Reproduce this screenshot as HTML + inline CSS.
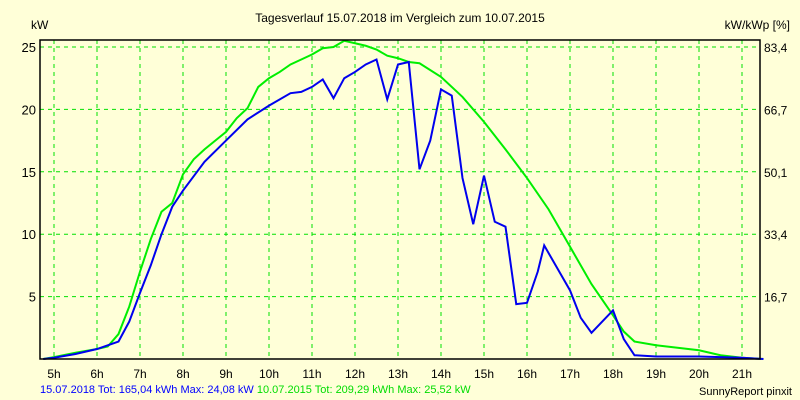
<!DOCTYPE html>
<html><head><meta charset="utf-8"><style>
body{margin:0;background:#FFFFD8;}
svg{display:block;font-family:"Liberation Sans",sans-serif;font-size:12px;}
</style></head><body>
<svg width="800" height="400">
<rect x="0" y="0" width="800" height="400" fill="#FFFFD8"/>
<text x="400" y="22" text-anchor="middle">Tagesverlauf 15.07.2018 im Vergleich zum 10.07.2015</text>
<text x="31" y="29">kW</text>
<text x="790" y="29" text-anchor="end">kW/kWp [%]</text>
<g id="grid"></g>
<g id="series"></g>
<rect x="40" y="40" width="720" height="319" fill="none" stroke="#000" stroke-width="1.5"/>
<g id="labels"></g>
<text x="40" y="393" font-size="11"><tspan fill="#0000FF">15.07.2018 Tot: 165,04 kWh Max: 24,08 kW</tspan><tspan fill="#00DD00"> 10.07.2015 Tot: 209,29 kWh Max: 25,52 kW</tspan></text>
<text x="792" y="395" text-anchor="end" font-size="11">SunnyReport pinxit</text>
</svg>
<script>
const xTicks=[5,6,7,8,9,10,11,12,13,14,15,16,17,18,19,20,21];
const yTicks=[5,10,15,20,25];
const yRightLabels=["16,7","33,4","50,1","66,7","83,4"];
const blueT=[4.75,5,5.5,6,6.5,6.75,7,7.25,7.5,7.75,8,8.5,9,9.5,10,10.5,10.75,11,11.25,11.5,11.75,12,12.25,12.5,12.75,13,13.25,13.5,13.75,14,14.25,14.5,14.75,15,15.25,15.5,15.75,16,16.25,16.4,16.75,17,17.25,17.5,17.75,18,18.25,18.5,19,20,21,21.5];
const blueV=[0,0.1,0.4,0.8,1.4,3,5.3,7.5,10,12.2,13.5,15.8,17.5,19.2,20.3,21.3,21.4,21.8,22.4,20.9,22.5,23,23.6,24,20.8,23.6,23.8,15.2,17.5,21.6,21.1,14.5,10.8,14.7,11,10.6,4.4,4.5,7,9.1,7,5.5,3.3,2.1,3,3.9,1.6,0.3,0.2,0.2,0.1,0];
const greenT=[4.75,5,5.5,6,6.25,6.5,6.75,7,7.25,7.5,7.75,8,8.25,8.5,8.75,9,9.25,9.5,9.75,10,10.25,10.5,10.75,11,11.25,11.5,11.75,12,12.25,12.5,12.75,13,13.25,13.5,14,14.5,15,15.5,16,16.5,17,17.5,18,18.25,18.5,19,19.5,20,20.5,21,21.5];
const greenV=[0,0.15,0.5,0.8,1,2,4.2,7,9.6,11.8,12.5,14.8,16,16.8,17.5,18.2,19.3,20.1,21.8,22.5,23,23.6,24,24.4,24.9,25,25.5,25.3,25.1,24.8,24.3,24.1,23.8,23.7,22.6,21,19,16.8,14.5,12,9,6,3.5,2.2,1.4,1.1,0.9,0.7,0.3,0.1,0];
const NS="http://www.w3.org/2000/svg";
const X=h=>54+(h-5)*43;
const Y=v=>359-v*12.48;
function mk(tag,attrs,parent){const e=document.createElementNS(NS,tag);for(const k in attrs)e.setAttribute(k,attrs[k]);parent.appendChild(e);return e;}
const grid=document.getElementById('grid'),labels=document.getElementById('labels'),series=document.getElementById('series');
xTicks.forEach(h=>{
 const l=mk('line',{x1:X(h),x2:X(h),y1:40,y2:359,stroke:'#00E000','stroke-dasharray':'4,4'},grid);
 
 
 const t=mk('text',{x:X(h),y:378,'text-anchor':'middle'},labels);t.textContent=h+'h';
 
 
});
yTicks.forEach((v,i)=>{
 const l=mk('line',{x1:40,x2:760,y1:Y(v),y2:Y(v),stroke:'#00E000','stroke-dasharray':'4,4'},grid);
 
 
 const t=mk('text',{x:36,y:Y(v)+5,'text-anchor':'end','font-size':'13'},labels);t.textContent=v;
 
 
 const r=mk('text',{x:764,y:Y(v)+5},labels);r.textContent=yRightLabels[i];
 
 
});
const g=mk('polyline',{points:greenT.map((t,i)=>X(t)+','+Y(greenV[i])).join(' '),fill:'none',stroke:'#00EE00','stroke-width':2},series);


const b=mk('polyline',{points:blueT.map((t,i)=>X(t)+','+Y(blueV[i])).join(' '),fill:'none',stroke:'#0000EE','stroke-width':2},series);


</script>
</body></html>
